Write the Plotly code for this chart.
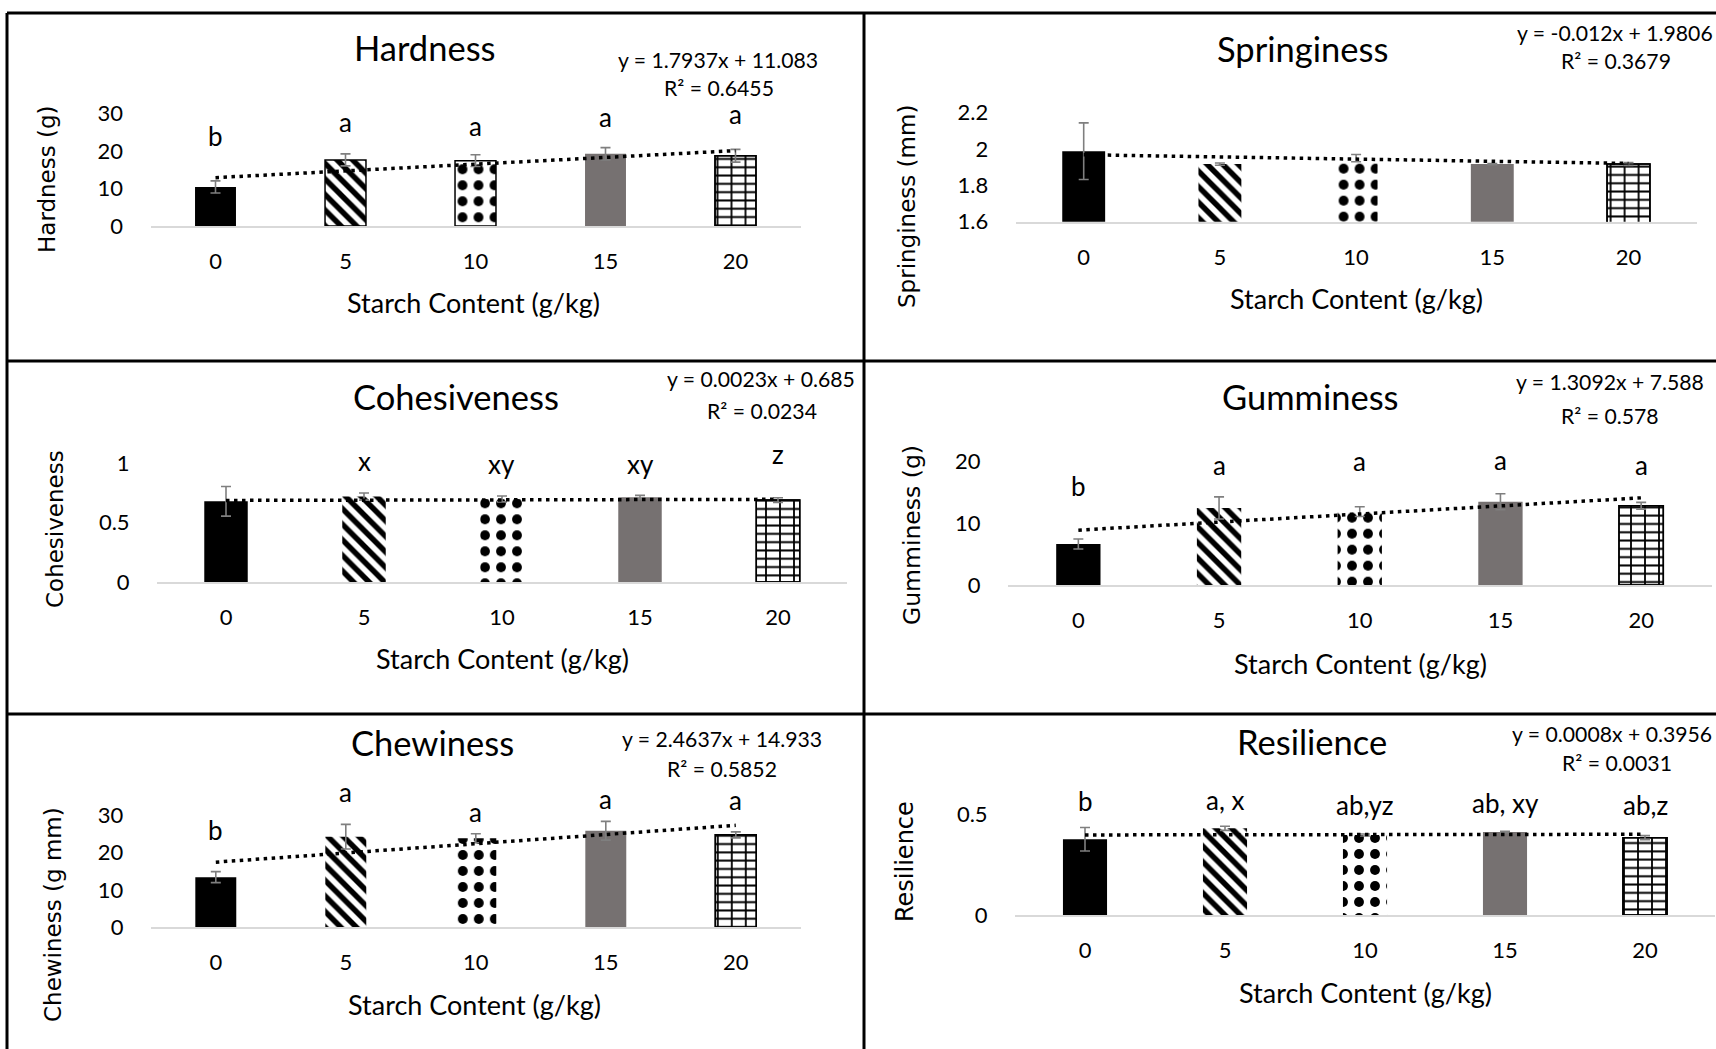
import plotly.graph_objects as go

# ---- data -------------------------------------------------------------
CATEGORIES = ["0", "5", "10", "15", "20"]

HARDNESS = [10.4, 17.6, 17.4, 19.2, 18.7]
HARDNESS_SD = [1.6, 1.6, 1.55, 1.65, 1.7]
HARDNESS_LETTERS = ["b", "a", "a", "a", "a"]
HARDNESS_FIT = (1.7937, 11.083, 0.6455)

SPRINGINESS = [1.988, 1.917, 1.95, 1.917, 1.917]
SPRINGINESS_SD = [0.156, 0.006, 0.02, 0.003, 0.008]
SPRINGINESS_LETTERS = ["", "", "", "", ""]
SPRINGINESS_FIT = (-0.012, 1.9806, 0.3679)

COHESIVENESS = [0.68, 0.72, 0.70, 0.715, 0.69]
COHESIVENESS_SD = [0.125, 0.03, 0.025, 0.015, 0.02]
COHESIVENESS_LETTERS = ["", "x", "xy", "xy", "z"]
COHESIVENESS_FIT = (0.0023, 0.685, 0.0234)

GUMMINESS = [6.65, 12.5, 11.9, 13.5, 12.85]
GUMMINESS_SD = [0.8, 1.8, 0.8, 1.3, 0.55]
GUMMINESS_LETTERS = ["b", "a", "a", "a", "a"]
GUMMINESS_FIT = (1.3092, 7.588, 0.578)

CHEWINESS = [13.4, 24.2, 23.8, 25.8, 24.7]
CHEWINESS_SD = [1.46, 3.3, 1.2, 2.5, 0.8]
CHEWINESS_LETTERS = ["b", "a", "a", "a", "a"]
CHEWINESS_FIT = (2.4637, 14.933, 0.5852)

RESILIENCE = [0.375, 0.429, 0.396, 0.411, 0.383]
RESILIENCE_SD = [0.058, 0.01, 0.005, 0.003, 0.01]
RESILIENCE_LETTERS = ["b", "a, x", "ab,yz", "ab, xy", "ab,z"]
RESILIENCE_FIT = (0.0008, 0.3956, 0.0031)

X_TITLE = "Starch Content (g/kg)"

# ---- page geometry (pixels) -----------------------------------------
W, H = 1716, 1049
TEXT_FONT = "Lato, Open Sans, sans-serif"
YTITLE_FONT = "DejaVu Sans, Verdana, sans-serif"


def px(x):
    return x / W


def py(y):
    return 1 - y / H


panels = [
    dict(title="Hardness", ytitle="Hardness (g)", values=HARDNESS, sd=HARDNESS_SD,
         letters=HARDNESS_LETTERS, fit=HARDNESS_FIT,
         left=150.5, step=130, base=226, top=113.3, yr=(0, 30),
         yticks=[0, 10, 20, 30], yticktext=["0", "10", "20", "30"],
         title_at=(425, 47.7), eq_at=(718, 60), r2_at=(719, 88),
         xt_at=(474, 302), yt_at=(47, 179), yt_size=23,
         letter_y=[135.5, 121.5, 126.5, 116.5, 113.5], outline=[0, 1.5, 1.5, 0, 1.5]),
    dict(title="Springiness", ytitle="Springiness (mm)", values=SPRINGINESS, sd=SPRINGINESS_SD,
         letters=SPRINGINESS_LETTERS, fit=SPRINGINESS_FIT,
         left=1015.6, step=136.2, base=221.7, top=112.7, yr=(1.6, 2.2),
         yticks=[1.6, 1.8, 2.0, 2.2], yticktext=["1.6", "1.8", "2", "2.2"],
         title_at=(1302, 49), eq_at=(1615, 33), r2_at=(1616, 61),
         xt_at=(1356, 299), yt_at=(907, 206), yt_size=23,
         letter_y=[0, 0, 0, 0, 0], outline=[0, 0, 0, 0, 1.5]),
    dict(title="Cohesiveness", ytitle="Cohesiveness", values=COHESIVENESS, sd=COHESIVENESS_SD,
         letters=COHESIVENESS_LETTERS, fit=COHESIVENESS_FIT,
         left=157, step=138, base=582, top=463.3, yr=(0, 1),
         yticks=[0, 0.5, 1], yticktext=["0", "0.5", "1"],
         title_at=(456, 397), eq_at=(761, 379), r2_at=(762, 411),
         xt_at=(503, 658), yt_at=(55, 529), yt_size=23,
         letter_y=[0, 461.5, 463.5, 463.5, 454.5], outline=[0, 0, 0, 0, 1.5]),
    dict(title="Gumminess", ytitle="Gumminess (g)", values=GUMMINESS, sd=GUMMINESS_SD,
         letters=GUMMINESS_LETTERS, fit=GUMMINESS_FIT,
         left=1008, step=140.7, base=585, top=461.7, yr=(0, 20),
         yticks=[0, 10, 20], yticktext=["0", "10", "20"],
         title_at=(1310, 397), eq_at=(1610, 382), r2_at=(1610, 416),
         xt_at=(1360, 663), yt_at=(912, 535), yt_size=23.5,
         letter_y=[486.5, 464.5, 461.5, 459.5, 464.5], outline=[0, 0, 0, 0, 1.5]),
    dict(title="Chewiness", ytitle="Chewiness (g mm)", values=CHEWINESS, sd=CHEWINESS_SD,
         letters=CHEWINESS_LETTERS, fit=CHEWINESS_FIT,
         left=150.8, step=130, base=927.3, top=815, yr=(0, 30),
         yticks=[0, 10, 20, 30], yticktext=["0", "10", "20", "30"],
         title_at=(433, 742), eq_at=(722, 739), r2_at=(722, 769),
         xt_at=(475, 1004), yt_at=(53, 915), yt_size=23,
         letter_y=[830, 791.5, 812, 799, 800], outline=[0, 0, 0, 0, 1.5]),
    dict(title="Resilience", ytitle="Resilience", values=RESILIENCE, sd=RESILIENCE_SD,
         letters=RESILIENCE_LETTERS, fit=RESILIENCE_FIT,
         left=1015, step=140, base=915, top=814, yr=(0, 0.5),
         yticks=[0, 0.5], yticktext=["0", "0.5"],
         title_at=(1312, 741), eq_at=(1612, 734), r2_at=(1617, 763),
         xt_at=(1365, 992), yt_at=(905, 862), yt_size=24,
         letter_y=[800.5, 799.5, 804.5, 802.5, 804.5], outline=[0, 0, 0, 0, 1.5]),
]

# bar fills: solid black, diagonal stripes, dots, solid grey, bricks
BAR_STYLES = [
    dict(color="#000000", shape="", size=8, solidity=0.2),
    dict(color="#FFFFFF", shape="\\", size=11, solidity=0.5),
    dict(color="#FFFFFF", shape=".", size=16, solidity=0.3),
    dict(color="#767171", shape="", size=8, solidity=0.2),
    dict(color="#FFFFFF", shape="-", size=8.3, solidity=0.24),
]
BAR_WIDTH = 0.315

fig = go.Figure()
annotations = []
axes = {}

for i, p in enumerate(panels, start=1):
    xname = "x" if i == 1 else f"x{i}"
    yname = "y" if i == 1 else f"y{i}"
    idx = list(range(len(CATEGORIES)))

    # one bar per starch level, each with its own fill
    for k in idx:
        st = BAR_STYLES[k]
        pattern = dict(shape=st["shape"], fgcolor="#000000", bgcolor=st["color"],
                       size=st["size"], solidity=st["solidity"], fillmode="replace")
        fig.add_trace(go.Bar(
            x=[k], y=[p["values"][k]], width=BAR_WIDTH,
            marker=dict(color=st["color"],
                        line=dict(color="#000000", width=p["outline"][k]),
                        pattern=pattern),
            xaxis=xname, yaxis=yname, hoverinfo="skip", showlegend=False,
        ))
    # vertical joints of the brick bar
    fig.add_trace(go.Bar(
        x=idx[4:], y=p["values"][4:], width=BAR_WIDTH,
        marker=dict(
            color="rgba(0,0,0,0)",
            line=dict(color="#000000", width=1.5),
            pattern=dict(shape="|", fgcolor="#000000", bgcolor="rgba(0,0,0,0)",
                         size=14, solidity=0.13, fillmode="replace"),
        ),
        xaxis=xname, yaxis=yname, hoverinfo="skip", showlegend=False,
    ))
    # standard-deviation error bars
    fig.add_trace(go.Scatter(
        x=idx, y=p["values"], mode="markers",
        marker=dict(size=1, color="rgba(0,0,0,0)"),
        error_y=dict(type="data", array=p["sd"], visible=True,
                     color="#7F7F7F", thickness=1.6, width=5),
        xaxis=xname, yaxis=yname, hoverinfo="skip", showlegend=False,
    ))
    # linear trend line from the fitted equation (x = category number 1..5)
    slope, intercept, r2 = p["fit"]
    fig.add_trace(go.Scatter(
        x=idx, y=[slope * (k + 1) + intercept for k in idx], mode="lines",
        line=dict(color="#000000", width=3.5, dash="3.5px,4.5px"),
        xaxis=xname, yaxis=yname, hoverinfo="skip", showlegend=False,
    ))

    right = min(p["left"] + 5 * p["step"], W)
    xmax = -0.5 + (right - p["left"]) / p["step"]
    axes["xaxis" if i == 1 else f"xaxis{i}"] = dict(
        domain=[px(p["left"]), px(right)], range=[-0.5, xmax],
        anchor=yname, tickvals=idx, ticktext=CATEGORIES,
        showline=True, linecolor="#D9D9D9", linewidth=2,
        ticks="outside", ticklen=14.5, tickcolor="rgba(0,0,0,0)",
        tickfont=dict(family=TEXT_FONT, size=22, color="#000000"),
        showgrid=False, zeroline=False, fixedrange=True,
    )
    axes["yaxis" if i == 1 else f"yaxis{i}"] = dict(
        domain=[py(p["base"]), py(p["top"])], range=list(p["yr"]),
        anchor=xname, tickvals=p["yticks"], ticktext=p["yticktext"],
        showline=False, ticks="outside", ticklen=22, tickcolor="rgba(0,0,0,0)",
        tickfont=dict(family=TEXT_FONT, size=22, color="#000000"),
        showgrid=False, zeroline=False, fixedrange=True,
    )

    def note(text, at, size, family=TEXT_FONT, angle=0, xanchor="center"):
        annotations.append(dict(
            text=text, x=px(at[0]), y=py(at[1]), xref="paper", yref="paper",
            xanchor=xanchor, yanchor="middle", showarrow=False, textangle=angle,
            font=dict(family=family, size=size, color="#000000"),
        ))

    note(p["title"], p["title_at"], 34.5)
    note(f"y = {slope}x + {intercept}", p["eq_at"], 21.2)
    note(f"R² = {r2}", p["r2_at"], 21.2)
    note(X_TITLE, p["xt_at"], 27)
    note(p["ytitle"], p["yt_at"], p["yt_size"], family=YTITLE_FONT, angle=-90)
    for k, (lab, ly) in enumerate(zip(p["letters"], p["letter_y"])):
        if lab:
            note(lab, (p["left"] + (k + 0.5) * p["step"], ly), 26)

# panel frame
frame = dict(type="line", xref="paper", yref="paper", line=dict(color="#000000", width=3))
shapes = [
    dict(frame, x0=px(7), x1=1, y0=py(13), y1=py(13)),
    dict(frame, x0=px(7), x1=1, y0=py(361), y1=py(361)),
    dict(frame, x0=px(7), x1=1, y0=py(714), y1=py(714)),
    dict(frame, x0=px(7), x1=px(7), y0=py(13), y1=0),
    dict(frame, x0=px(864), x1=px(864), y0=py(13), y1=0),
]

fig.update_layout(
    width=W, height=H, margin=dict(l=0, r=0, t=0, b=0, autoexpand=False),
    paper_bgcolor="#FFFFFF", plot_bgcolor="rgba(0,0,0,0)",
    barmode="overlay", showlegend=False,
    annotations=annotations, shapes=shapes, **axes,
)

fig.write_html("out.html")
